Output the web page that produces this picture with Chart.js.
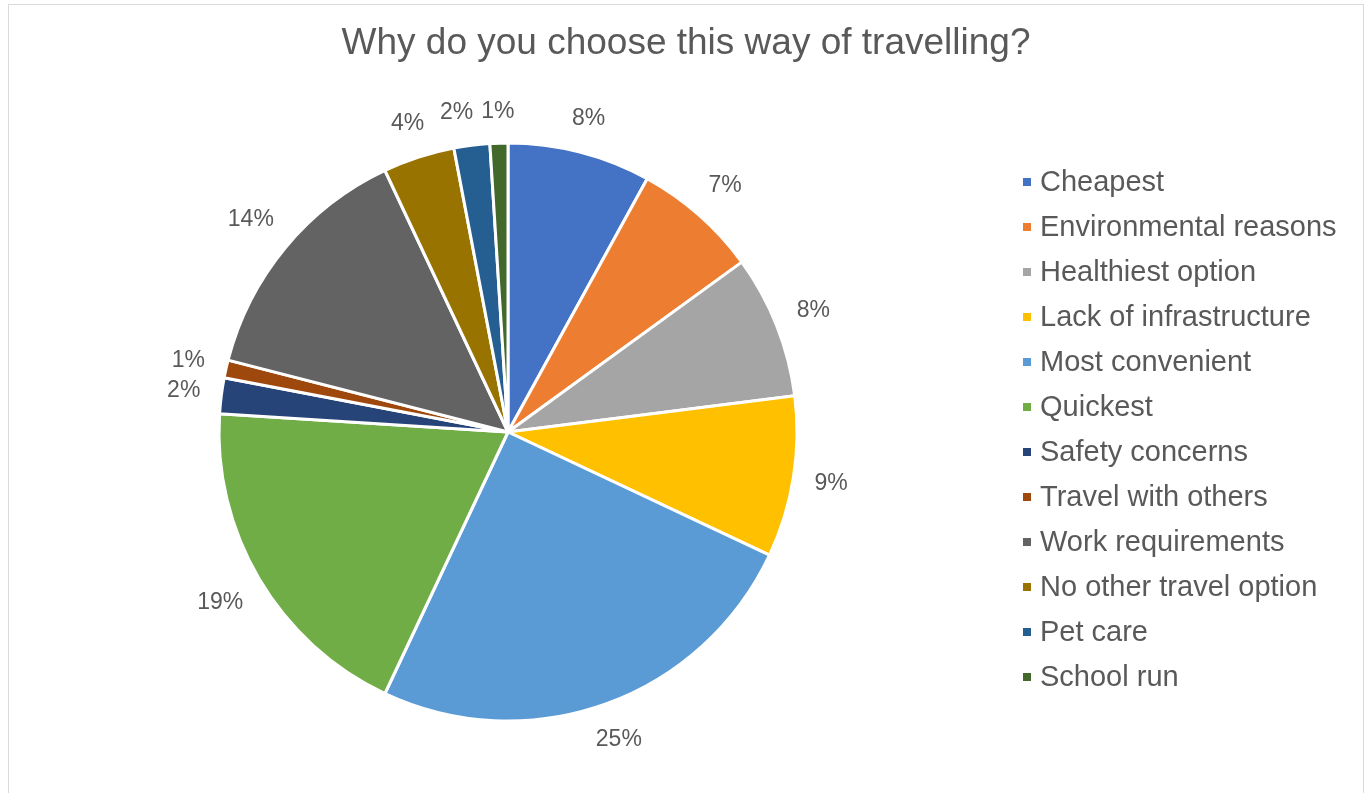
<!DOCTYPE html>
<html>
<head>
<meta charset="utf-8">
<title>Why do you choose this way of travelling?</title>
<script src="https://cdn.jsdelivr.net/npm/chart.js@4.4.0/dist/chart.umd.min.js"></script>
<style>
    html, body { margin: 0; padding: 0; background: #fff; }
    .frame { position: absolute; left: 8px; top: 4px; width: 1354px; height: 800px; border: 1px solid #d9d9d9; }
    .frame canvas { display: block; }
</style>
</head>
<body>
<div class="frame"><canvas id="reasonsChart" width="1354" height="788"></canvas></div>
<script>
const chartTitle = 'Why do you choose this way of travelling?';
const reasons = ['Cheapest', 'Environmental reasons', 'Healthiest option', 'Lack of infrastructure',
    'Most convenient', 'Quickest', 'Safety concerns', 'Travel with others', 'Work requirements',
    'No other travel option', 'Pet care', 'School run'];
const shares = [8, 7, 8, 9, 25, 19, 2, 1, 14, 4, 2, 1];
const sliceColors = ['#4472C4', '#ED7D31', '#A5A5A5', '#FFC000', '#5B9BD5', '#70AD47',
    '#264478', '#9E480E', '#636363', '#997300', '#255E91', '#43682B'];

const textColor = '#595959';
const fontFamily = '"Liberation Sans", Arial, Helvetica, sans-serif';

// title, legend and percentage labels drawn on the canvas
const pieDecor = {
    id: 'pieDecor',
    afterDraw(chart) {
        const ctx = chart.ctx;
        ctx.save();
        ctx.fillStyle = textColor;

        // title, centred over the whole canvas
        ctx.font = '37px ' + fontFamily;
        ctx.textAlign = 'center';
        ctx.textBaseline = 'alphabetic';
        ctx.fillText(chartTitle, chart.width / 2, 49);

        // legend column on the right
        const ds = chart.data.datasets[0];
        ctx.font = '29px ' + fontFamily;
        ctx.textAlign = 'left';
        ctx.textBaseline = 'middle';
        chart.data.labels.forEach(function (label, i) {
            const y = 177 + i * 45;
            ctx.fillStyle = ds.backgroundColor[i];
            ctx.fillRect(1014, y - 4, 8, 8);
            ctx.fillStyle = textColor;
            ctx.fillText(label, 1031, y + 1);
        });

        // percentage labels outside each slice
        ctx.font = '23px ' + fontFamily;
        ctx.textAlign = 'center';
        ctx.textBaseline = 'middle';
        const h = 22;
        const meta = chart.getDatasetMeta(0);
        const boxes = meta.data.map(function (arc, i) {
            const p = arc.getProps(['x', 'y', 'startAngle', 'endAngle', 'outerRadius'], true);
            const mid = (p.startAngle + p.endAngle) / 2;
            const text = ds.data[i] + '%';
            const w = ctx.measureText(text).width;
            const cos = Math.cos(mid), sin = Math.sin(mid);
            const dist = p.outerRadius + 20 + Math.abs(cos) * w / 2 + Math.abs(sin) * h / 2;
            return { text: text, w: w, x: p.x + cos * dist, y: p.y + sin * dist };
        });
        // walk back from the last slice and push crowded labels to the left
        for (let i = boxes.length - 2; i >= 0; i--) {
            const a = boxes[i], b = boxes[i + 1];
            const overlapY = Math.abs(a.y - b.y) < h;
            const gap = (b.x - b.w / 2) - (a.x + a.w / 2);
            if (overlapY && a.x < b.x && gap < 8) {
                a.x -= 8 - gap;
            }
        }
        boxes.forEach(function (b) {
            ctx.fillText(b.text, b.x, b.y);
        });
        ctx.restore();
    }
};

const chartItem = document.getElementById('reasonsChart');
if (chartItem) {
    const reasonsChart = new Chart(chartItem, {
        type: 'pie',
        data: {
            labels: reasons,
            datasets: [{
                data: shares,
                backgroundColor: sliceColors,
                borderColor: '#ffffff',
                borderWidth: 3,
                hoverOffset: 0
            }]
        },
        options: {
            responsive: false,
            animation: false,
            layout: {
                padding: { left: 208.5, right: 564.5, top: 136.5, bottom: 70.5 }
            },
            plugins: {
                legend: { display: false },
                title: { display: false },
                tooltip: { enabled: false }
            }
        },
        plugins: [pieDecor]
    });
}
</script>
</body>
</html>
